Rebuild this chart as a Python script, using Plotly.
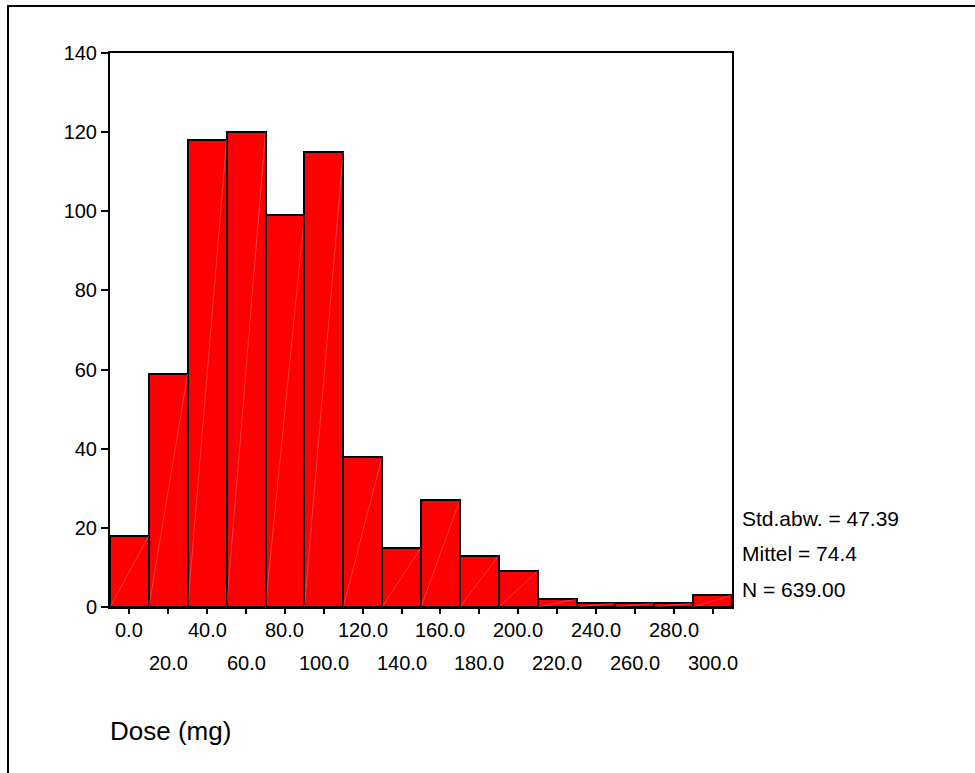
import plotly.graph_objects as go

# Data
bin_centers = [0, 20, 40, 60, 80, 100, 120, 140, 160, 180, 200, 220, 240, 260, 280, 300]
counts = [18, 59, 118, 120, 99, 115, 38, 15, 27, 13, 9, 2, 1, 1, 1, 3]
tick_labels = ["0.0", "20.0", "40.0", "60.0", "80.0", "100.0", "120.0", "140.0",
               "160.0", "180.0", "200.0", "220.0", "240.0", "260.0", "280.0", "300.0"]
y_ticks = [0, 20, 40, 60, 80, 100, 120, 140]
stats_lines = ["Std.abw. = 47.39", "Mittel = 74.4", "N = 639.00"]
x_title = "Dose (mg)"
bin_width = 20

FONT = "Liberation Sans, Arial, sans-serif"

W, H = 975, 773
L, R, T, B = 110, 243, 53, 166
pw, ph = W - L - R, H - T - B

fig = go.Figure()
fig.add_trace(go.Bar(
    x=bin_centers, y=counts, width=bin_width,
    marker=dict(color="#FF0000", line=dict(color="black", width=2)),
    hoverinfo="x+y", showlegend=False,
))

# faint diagonal artifacts inside bars (bottom-left to top-right)
dx, dy = [], []
for c, v in zip(bin_centers, counts):
    dx += [c - bin_width / 2, c + bin_width / 2, None]
    dy += [0, v, None]
fig.add_trace(go.Scatter(x=dx, y=dy, mode="lines",
                         line=dict(color="rgba(255,170,170,0.6)", width=0.6),
                         hoverinfo="skip", showlegend=False))

annotations = []
# staggered x tick labels
for i, (c, lab) in enumerate(zip(bin_centers, tick_labels)):
    row = i % 2
    annotations.append(dict(
        x=c, y=0, xref="x", yref="paper", text=lab, showarrow=False,
        xanchor="center", yanchor="middle",
        yshift=-(23 if row == 0 else 56),
        font=dict(family=FONT, size=20, color="black"),
    ))

# statistics text
stat_y = [518, 553, 589]
for s, yp in zip(stats_lines, stat_y):
    annotations.append(dict(
        x=(740 - L) / pw, y=(T + ph - yp) / ph, xref="paper", yref="paper",
        text=s, showarrow=False, xanchor="left", yanchor="middle",
        font=dict(family=FONT, size=21, color="black"),
    ))

# axis title
annotations.append(dict(
    x=(108 - L) / pw, y=(T + ph - 731) / ph, xref="paper", yref="paper",
    text=x_title, showarrow=False, xanchor="left", yanchor="middle",
    font=dict(family=FONT, size=26, color="black"),
))

fig.update_layout(
    width=W, height=H,
    margin=dict(l=L, r=R, t=T, b=B, pad=0),
    paper_bgcolor="white", plot_bgcolor="white",
    bargap=0,
    annotations=annotations,
    shapes=[dict(type="rect", xref="paper", yref="paper",
                 x0=(8 - L) / pw, x1=(1000 - L) / pw,
                 y0=(T + ph - 800) / ph, y1=(T + ph - 6) / ph,
                 line=dict(color="black", width=2), layer="below")],
    xaxis=dict(range=[-10, 310], tickvals=bin_centers, showticklabels=False,
               ticks="outside", ticklen=5, tickwidth=2, tickcolor="black",
               showline=True, linecolor="black", linewidth=2, mirror=True,
               showgrid=False, zeroline=False, fixedrange=True),
    yaxis=dict(range=[0, 140], tickvals=y_ticks, ticks="outside", ticklen=7,
               tickwidth=2, tickcolor="black",
               tickfont=dict(family=FONT, size=20, color="black"),
               showline=True, linecolor="black", linewidth=2, mirror=True,
               showgrid=False, zeroline=False, fixedrange=True),
)

fig.write_html("out.html",
               config={"displayModeBar": False},
               post_script="document.body.style.margin='0';document.body.style.overflow='hidden';")
